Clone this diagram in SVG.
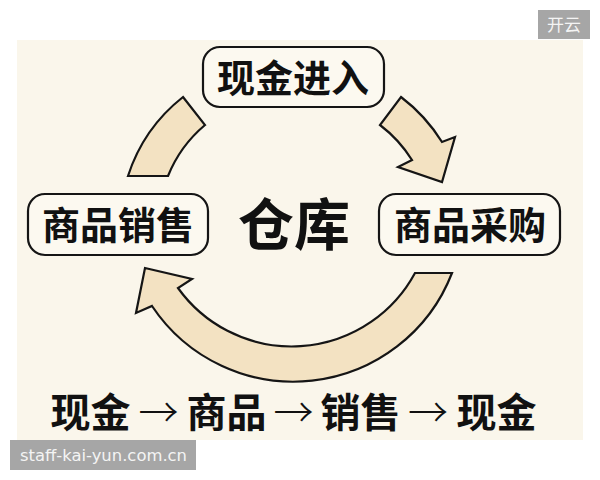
<svg xmlns="http://www.w3.org/2000/svg" width="600" height="480" viewBox="0 0 600 480">
  <style>
    .box { fill: #fcf9f0; stroke: #151515; stroke-width: 2.2; }
    .lbl { font-family: "Noto Sans CJK SC", "Noto Sans", sans-serif; font-weight: 700; fill: #111; text-anchor: middle; }
    .arw { font-family: "Noto Sans CJK SC", sans-serif; font-weight: 300; fill: #111; text-anchor: middle; }
    .band { fill: #f3e2c2; stroke: #151515; stroke-width: 2.2; stroke-linejoin: miter; }
    .badge { fill: #a6a6a6; }
    .wm { font-family: "DejaVu Sans", "Noto Sans CJK SC", sans-serif; fill: #f4f4f4; }
  </style>
  <rect x="0" y="0" width="600" height="480" fill="#ffffff"/>
  <rect x="17" y="40" width="566" height="400" fill="#faf6eb"/>

  <g id="connectors">
    <path id="arc-top-left" class="band" d="M 183 97 L 205 125 A 130 130 0 0 0 168 176 L 128 176 A 165 165 0 0 1 183 97 Z"/>
    <path id="arc-top-right" class="band" d="M 401 97 A 168 168 0 0 1 442 142 L 455 137 L 442 182 L 398 167 L 412 160 A 133 133 0 0 0 380 125 Z"/>
    <path id="arc-bottom" class="band" d="M 452 273 A 170 170 0 0 1 152 306 L 136 313 L 145 268 L 192 279 L 178 288 A 140 140 0 0 0 415 273 Z"/>
  </g>

  <g id="node-cash-in">
    <rect class="box" x="203" y="47" width="181" height="60" rx="17"/>
    <text class="lbl" x="293" y="92" font-size="38">现金进入</text>
  </g>
  <g id="node-sales">
    <rect class="box" x="28" y="194" width="180" height="61" rx="17"/>
    <text class="lbl" x="118" y="239" font-size="38">商品销售</text>
  </g>
  <g id="node-purchase">
    <rect class="box" x="379" y="194" width="181" height="61" rx="17"/>
    <text class="lbl" x="470" y="239" font-size="38">商品采购</text>
  </g>
  <g id="node-warehouse">
    <text class="lbl" x="294" y="245" font-size="56" font-weight="900">仓库</text>
  </g>

  <g id="flow-text">
    <text class="lbl" x="90.5" y="427" font-size="40">现金</text>
    <text class="arw" x="158.5" y="427" font-size="40">→</text>
    <text class="lbl" x="226.5" y="427" font-size="40">商品</text>
    <text class="arw" x="293.5" y="427" font-size="40">→</text>
    <text class="lbl" x="360.5" y="427" font-size="40">销售</text>
    <text class="arw" x="428" y="427" font-size="40">→</text>
    <text class="lbl" x="496.5" y="427" font-size="40">现金</text>
  </g>

  <g id="badge">
    <rect class="badge" x="538" y="10" width="52" height="29"/>
    <text x="564" y="31" font-size="17" fill="#f4f4f4" text-anchor="middle" font-family="Noto Sans CJK SC, sans-serif">开云</text>
  </g>
  <g id="watermark">
    <rect class="badge" x="10" y="440" width="186" height="30"/>
    <text class="wm" x="20" y="461" font-size="16" textLength="167" lengthAdjust="spacingAndGlyphs">staff-kai-yun.com.cn</text>
  </g>
</svg>
